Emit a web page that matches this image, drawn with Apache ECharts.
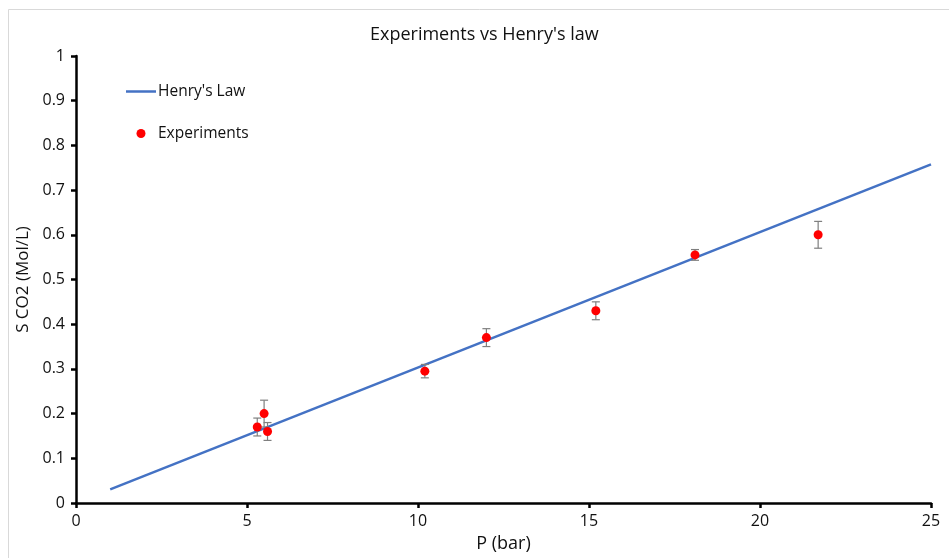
<!DOCTYPE html>
<html>
<head>
<meta charset="utf-8">
<script src="https://cdn.jsdelivr.net/npm/echarts@6/dist/echarts.min.js"></script>
<style>html,body{margin:0;padding:0;background:#fff;}#c{width:949px;height:558px;}</style>
</head>
<body>
<div id="c"></div>
<script>
// Henry's law fitted line (P, S)
const henryLine = [[1, 0.0303], [25, 0.7575]];
// Experiments: P (bar), S CO2 (Mol/L), error
const expP = [5.3, 5.5, 5.6, 10.2, 12.0, 15.2, 18.1, 21.7];
const expS = [0.17, 0.20, 0.16, 0.295, 0.37, 0.43, 0.555, 0.60];
const expErr = [0.02, 0.03, 0.02, 0.015, 0.02, 0.02, 0.012, 0.03];

const expData = expP.map((p, i) => [p, expS[i]]);
const errData = expP.map((p, i) => [p, expS[i], expErr[i]]);

const font = 'Open Sans';
const chart = echarts.init(document.getElementById('c'));
chart.setOption({
  backgroundColor: '#fff',
  animation: false,
  textStyle: { fontFamily: font },
  title: {
    text: "Experiments vs Henry's law",
    left: 365, top: 21,
    textStyle: { fontFamily: font, fontSize: 18, fontWeight: 'normal', color: '#111' }
  },
  graphic: [{
    type: 'rect', shape: { x: 8.5, y: 9.5, width: 980, height: 600 },
    style: { fill: 'none', stroke: '#d9d9d9', lineWidth: 1 }, silent: true, z: -1
  }],
  legend: {
    orient: 'vertical', left: 126, top: 81, padding: 0,
    itemWidth: 30, itemHeight: 9, itemGap: 21,
    textStyle: { fontFamily: font, fontSize: 15.5, color: '#111', lineHeight: 21, padding: [0, 0, 0, -3] },
    data: [
      { name: "Henry's Law", icon: 'path://M0,0L30,0L30,2.5L0,2.5Z' },
      { name: 'Experiments', icon: 'circle' }
    ]
  },
  grid: { left: 76, right: 18, top: 56, bottom: 55, containLabel: false },
  xAxis: {
    type: 'value', min: 0, max: 25, interval: 5,
    name: 'P (bar)', nameLocation: 'middle', nameGap: 32,
    nameTextStyle: { fontFamily: font, fontSize: 18, color: '#111' },
    axisLine: { show: true, onZero: false, lineStyle: { color: '#000', width: 2.5 } },
    axisTick: { show: true, inside: false, length: 5, lineStyle: { color: '#000', width: 2.5 } },
    axisLabel: { margin: 10, fontFamily: font, fontSize: 16, color: '#111' },
    splitLine: { show: false }
  },
  yAxis: {
    type: 'value', min: 0, max: 1, interval: 0.1,
    name: 'S CO2 (Mol/L)', nameLocation: 'middle', nameGap: 34,
    nameTextStyle: { fontFamily: font, fontSize: 17, color: '#111' },
    axisLine: { show: true, onZero: false, lineStyle: { color: '#000', width: 2.5 } },
    axisTick: { show: true, inside: false, length: 5, lineStyle: { color: '#000', width: 2.5 } },
    axisLabel: { margin: 11, fontFamily: font, fontSize: 16, color: '#111' },
    splitLine: { show: false }
  },
  series: [
    {
      name: "Henry's Law", type: 'line', data: henryLine,
      symbol: 'none', z: 2,
      lineStyle: { color: '#4472C4', width: 2.5 },
      itemStyle: { color: '#4472C4' }
    },
    {
      name: 'Experiments-err', type: 'custom', data: errData, z: 3,
      renderItem: function (params, api) {
        const x = api.value(0), y = api.value(1), e = api.value(2);
        const top = api.coord([x, y + e]);
        const bot = api.coord([x, y - e]);
        const w = 4;
        const st = { stroke: '#7f7f7f', lineWidth: 1.2 };
        return {
          type: 'group',
          children: [
            { type: 'line', shape: { x1: top[0], y1: top[1], x2: bot[0], y2: bot[1] }, style: st },
            { type: 'line', shape: { x1: top[0] - w, y1: top[1], x2: top[0] + w, y2: top[1] }, style: st },
            { type: 'line', shape: { x1: bot[0] - w, y1: bot[1], x2: bot[0] + w, y2: bot[1] }, style: st }
          ]
        };
      },
      silent: true
    },
    {
      name: 'Experiments', type: 'scatter', data: expData, z: 4,
      symbol: 'circle', symbolSize: 9,
      itemStyle: { color: '#ff0000', opacity: 1 }
    }
  ]
});
</script>
</body>
</html>
